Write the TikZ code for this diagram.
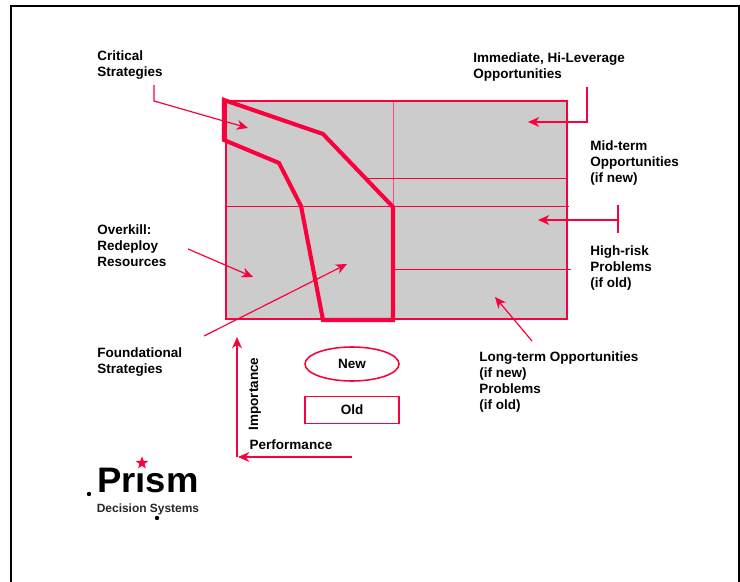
\documentclass[tikz,border=0pt]{standalone}
\usepackage{fontspec}
\setmainfont{Liberation Sans}
\usepackage{tikz}
\usetikzlibrary{arrows.meta}
\usetikzlibrary{positioning,shapes.geometric}
\definecolor{prismred}{RGB}{250,0,60}
\definecolor{quadgray}{RGB}{204,204,204}

\begin{document}
\begin{tikzpicture}[
x=0.025cm,y=-0.025cm,
MyLabels/.style={anchor=north west,align=left,inner sep=0pt,font=\fontsize{9.6}{11.4}\selectfont\bfseries},
MyPointers/.style={draw=prismred,line width=0.85pt,-{Stealth[length=8pt,width=7pt,inset=2.5pt]}},
MyAxes/.style={draw=prismred,line width=1pt,-{Stealth[length=8pt,width=7pt,inset=2.5pt]}},
GridLines/.style={draw=prismred,line width=0.6pt},
Boundary/.style={draw=prismred,line width=2.9pt,line join=miter},
Legend/.style={draw=prismred,line width=1.1pt,minimum width=2.35cm,inner sep=0pt,font=\fontsize{9.6}{11.4}\selectfont\bfseries}
]
\useasboundingbox (0,0) rectangle (740,582);

% page frame
\draw[line width=1.4pt] (11,582)--(11,6)--(739,6)--(739,582);

% the quadrant field
\coordinate (A) at (226,101);
\coordinate (B) at (567,319);
\fill[quadgray] (A) rectangle (B);

\draw[GridLines,draw=prismred!70] (393,101)--(393,206);
\draw[GridLines] (366,178)--(567,178);
\draw[GridLines] (226,206)--(569,206);
\draw[GridLines] (395,269)--(571,269);
\draw[draw=prismred,line width=1pt] (A) rectangle (B);

% the strategy band
\coordinate (P1) at (224,100);
\coordinate (P2) at (323,134);
\coordinate (P3) at (393,207);
\coordinate (P4) at (393,320);
\coordinate (P5) at (323,320);
\coordinate (P6) at (301,206);
\coordinate (P7) at (279,163);
\coordinate (P8) at (224,140);
\draw[Boundary] (P1)--(P2)--(P3)--(P4)--(P5)--(P6)--(P7)--(P8)--cycle;

% labels
\node[MyLabels] (crit) at (97,50) {Critical\\Strategies};
\node[MyLabels] (imm) at (473,52) {Immediate, Hi-Leverage\\Opportunities};
\node[MyLabels] (mid) at (590,140) {Mid-term\\Opportunities\\(if new)};
\node[MyLabels] (risk) at (590,245) {High-risk\\Problems\\(if old)};
\node[MyLabels] (over) at (97,224) {Overkill:\\Redeploy\\Resources};
\node[MyLabels] (found) at (97,347) {Foundational\\Strategies};
\node[MyLabels] (long) at (479,351) {Long-term Opportunities\\(if new)\\Problems\\(if old)};

% pointers into the field
\coordinate (C1) at (154,85);
\coordinate (C2) at (154,101);
\coordinate (C3) at (248,128);
\draw[MyPointers] (C1)--(C2)--(C3);

\coordinate (I1) at (587,87);
\coordinate (I2) at (528,122);
\draw[MyPointers] (I1)|-(I2);

\coordinate (M1) at (618,205);
\coordinate (M2) at (618,233);
\coordinate (M3) at (618,220);
\coordinate (M4) at (538,220);
\draw[GridLines,line width=1pt] (M1)--(M2);
\draw[MyPointers] (M3)--(M4);

\coordinate (L1) at (532,341);
\coordinate (L2) at (495,297);
\draw[MyPointers] (L1)--(L2);

\coordinate (O1) at (188,249);
\coordinate (O2) at (253,277);
\draw[MyPointers] (O1)--(O2);

\coordinate (F1) at (204,336);
\coordinate (F2) at (347,264);
\draw[MyPointers] (F1)--(F2);

% axes
\coordinate (origin) at (237,457);
\coordinate (top) at (237,337);
\coordinate (perf) at (352,457);
\draw[MyAxes] (origin)--(top);
\draw[MyAxes] (perf)--(238,457);
\node[MyLabels,anchor=center,rotate=90] (imp) at (255,394) {Importance};
\node[MyLabels,anchor=center] (per) at (291,445) {Performance};

% legend
\node[Legend,ellipse,minimum height=0.85cm] (new) at (352,364) {New};
\node[Legend,rectangle,minimum height=0.675cm] (old) at (352,410) {Old};

% logo
\node[anchor=base west,inner sep=0pt,xscale=1.08,yscale=1.05,font=\fontsize{24}{24}\selectfont\bfseries] (prism) at (97,492) {Pr\i sm};
\node[star,star points=5,star point ratio=2.4,fill=prismred,inner sep=0pt,minimum size=0.33cm] (spark) at (142,463) {};
\node[anchor=base,inner sep=0pt,text=black!85,font=\fontsize{8.5}{9}\selectfont\bfseries] (dss) at (148,512) {Decision Systems};
\fill (89,494) circle (2.2);
\fill (157,518) circle (2.2);

\end{tikzpicture}
\end{document}
